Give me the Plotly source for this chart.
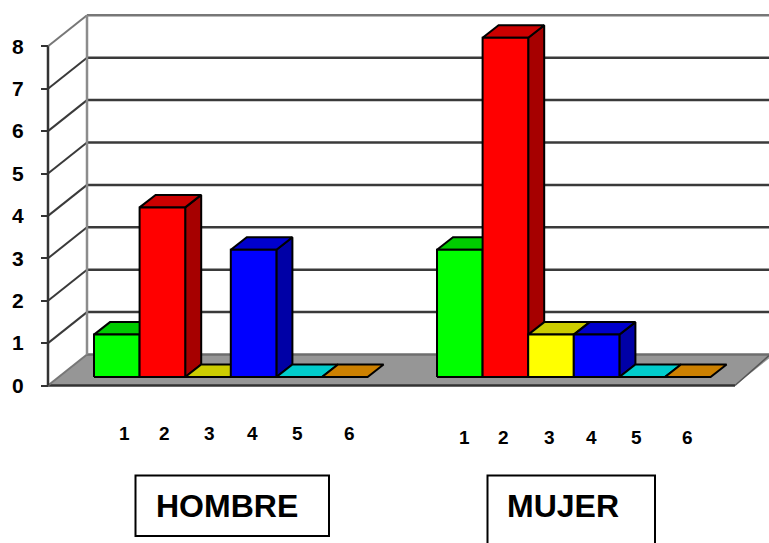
import plotly.graph_objects as go

W, H = 769, 543

categories = [1, 2, 3, 4, 5, 6]
hombre_values = [1, 4, 0, 3, 0, 0]
mujer_values = [3, 8, 1, 1, 0, 0]
tick_values = [0, 1, 2, 3, 4, 5, 6, 7, 8]
group_names = ["HOMBRE", "MUJER"]

front_colors = ["#00FF00", "#FF0000", "#FFFF00", "#0000FF", "#00FFFF", "#FF9900"]
top_colors = ["#00CC00", "#CC0000", "#CCCC00", "#0000CC", "#00CCCC", "#CC8000"]
side_colors = ["#00A600", "#A60000", "#A6A600", "#0000A6", "#00A6A6", "#A66600"]

# projection of the pseudo-3D scene
PX_PER_UNIT = 42.4
ZERO_PX = 385.5
AXIS_X = 48
WALL_DX, WALL_DY = 39, 31
BAR_DX, BAR_DY = 16, 12.5
SLOT = 45.6
GROUP_STARTS = [94, 437]


def val(px):
    """Convert a vertical pixel offset to value units."""
    return px / PX_PER_UNIT


def py(px):
    """Value-axis coordinate of a page pixel row."""
    return (ZERO_PX - px) / PX_PER_UNIT


fig = go.Figure()


def poly(xs, ys, fill=None, line="#000000", width=2):
    closed = fill is not None
    fig.add_trace(go.Scatter(
        x=list(xs) + ([xs[0]] if closed else []),
        y=list(ys) + ([ys[0]] if closed else []),
        mode="lines",
        fill="toself" if closed else None,
        fillcolor=fill,
        line=dict(color=line, width=width),
        hoverinfo="skip",
        showlegend=False,
    ))


# floor
back = val(WALL_DY)
poly([AXIS_X, AXIS_X + WALL_DX, W + 5, W + 5 - WALL_DX], [0, back, back, 0],
     fill="#969696", line="rgba(0,0,0,0)", width=0)
poly([AXIS_X + WALL_DX, W], [back, back], line="#6E6E6E", width=2.5)
poly([AXIS_X, W + 5 - WALL_DX], [0, 0], line="#333333", width=2.5)
poly([W + 5 - WALL_DX, W], [0, val(WALL_DY - 1)], line="#555555", width=1.5)

# back wall grid and side wall diagonals
for v in tick_values:
    if v > 0:
        color = "#777777" if v == tick_values[-1] else "#3A3A3A"
        poly([AXIS_X + WALL_DX, W], [v + back, v + back], line=color, width=2.5)
    poly([AXIS_X, AXIS_X + WALL_DX], [v, v + back],
         line="#777777" if v in (0, tick_values[-1]) else "#3A3A3A", width=2)
poly([AXIS_X + WALL_DX, AXIS_X + WALL_DX], [back, tick_values[-1] + back], line="#8C8C8C", width=2.5)
poly([AXIS_X, AXIS_X], [tick_values[0], tick_values[-1]], line="#333333", width=2.5)

# bars, left to right so that each one overlaps its neighbour's side
floor_y = py(377)
dy = val(BAR_DY)
for start, values in zip(GROUP_STARTS, [hombre_values, mujer_values]):
    for i, v in enumerate(values):
        x0 = start + SLOT * i
        x1 = x0 + SLOT
        top = floor_y + v
        if v > 0:
            poly([x1, x1 + BAR_DX, x1 + BAR_DX, x1],
                 [floor_y, floor_y + dy, top + dy, top], fill=side_colors[i])
        poly([x0, x0 + BAR_DX, x1 + BAR_DX, x1],
             [top, top + dy, top + dy, top], fill=top_colors[i])
        if v > 0:
            poly([x0, x1, x1, x0], [floor_y, floor_y, top, top], fill=front_colors[i])

# labels under the bars
label_x = [[124.5, 164.5, 209, 252.5, 297, 349], [464, 503.5, 549, 591.5, 636.5, 687]]
label_y = [433, 437]
for xs, yp in zip(label_x, label_y):
    for c, xp in zip(categories, xs):
        fig.add_annotation(x=xp, y=py(yp), text=f"<b>{c}</b>", showarrow=False,
                           font=dict(family="Liberation Sans", size=19, color="#000000"))

# group boxes
boxes = [(135.5, 329, 475.5, 536), (487.5, 655, 475.5, 560)]
name_x = [227, 563]
for name, (a, b, c, d), xp in zip(group_names, boxes, name_x):
    fig.add_shape(type="rect", x0=a, x1=b, y0=py(c), y1=py(d),
                  line=dict(color="#000000", width=2), fillcolor="#FFFFFF", layer="below")
    fig.add_annotation(x=xp, y=py(506), text=f"<b>{name}</b>", showarrow=False,
                       font=dict(family="Liberation Sans", size=32, color="#000000"))

fig.update_layout(
    width=W, height=H,
    margin=dict(l=0, r=0, t=0, b=0),
    paper_bgcolor="#FFFFFF", plot_bgcolor="#FFFFFF",
    showlegend=False,
    xaxis=dict(range=[0, W], visible=False, domain=[0, 1], fixedrange=True),
    yaxis=dict(
        range=[py(H), py(0)], domain=[0, 1], anchor="free", position=AXIS_X / W,
        tickmode="array", tickvals=tick_values, ticktext=[f"<b>{t}</b>" for t in tick_values],
        ticks="outside", ticklen=7, tickwidth=2, tickcolor="#333333",
        ticklabelstandoff=13, showgrid=False, zeroline=False, showline=False,
        tickfont=dict(family="Liberation Sans", size=21, color="#000000"),
        fixedrange=True,
    ),
)

fig.write_html(
    "out.html",
    config={"displayModeBar": False},
    post_script="document.body.style.margin='0';document.documentElement.style.overflow='hidden';",
)
